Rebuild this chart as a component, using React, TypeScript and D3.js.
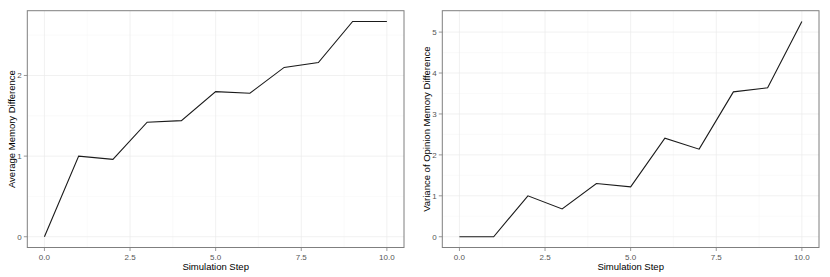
import * as d3 from 'd3';
import React from 'react';

const width = 830;
const height = 277;

const steps = [0, 1, 2, 3, 4, 5, 6, 7, 8, 9, 10];
const avgMemoryDiff = [0, 1.0, 0.96, 1.42, 1.44, 1.8, 1.78, 2.1, 2.16, 2.67, 2.67];
const varOpinionDiff = [0, 0, 1.0, 0.68, 1.3, 1.22, 2.41, 2.14, 3.54, 3.64, 5.26];

const xTicks = [0, 2.5, 5, 7.5, 10];
const xMinor = [1.25, 3.75, 6.25, 8.75];
const leftYTicks = [0, 1, 2];
const leftYMinor = [0.5, 1.5, 2.5];
const rightYTicks = [0, 1, 2, 3, 4, 5];
const rightYMinor = [0.5, 1.5, 2.5, 3.5, 4.5];

const font = '"Liberation Sans", Arial, sans-serif';
const grey50 = '#7f7f7f';

type PanelProps = {
  left: number;
  right: number;
  values: number[];
  yTicks: number[];
  yMinor: number[];
  yTitle: string;
};

const expand = (ext: [number, number]): [number, number] => {
  const pad = (ext[1] - ext[0]) * 0.05;
  return [ext[0] - pad, ext[1] + pad];
};

const Panel = ({ left, right, values, yTicks, yMinor, yTitle }: PanelProps) => {
  const top = 10.7;
  const bottom = 247.5;
  const xScale = d3.scaleLinear().domain(expand([0, 10])).range([left, right]);
  const yExt = d3.extent(values) as [number, number];
  const yScale = d3.scaleLinear().domain(expand(yExt)).range([bottom, top]);
  const line = d3
    .line<number>()
    .x((d, i) => xScale(steps[i]))
    .y((d) => yScale(d));

  return (
    <g>
      <rect x={left} y={top} width={right - left} height={bottom - top} fill="#fff" />
      {xMinor.map((t) => (
        <line key={'xm' + t} x1={xScale(t)} x2={xScale(t)} y1={top} y2={bottom} stroke="#f7f7f7" strokeWidth={0.6} />
      ))}
      {yMinor.map((t) => (
        <line key={'ym' + t} x1={left} x2={right} y1={yScale(t)} y2={yScale(t)} stroke="#f7f7f7" strokeWidth={0.6} />
      ))}
      {xTicks.map((t) => (
        <line key={'xg' + t} x1={xScale(t)} x2={xScale(t)} y1={top} y2={bottom} stroke="#ebebeb" strokeWidth={0.7} />
      ))}
      {yTicks.map((t) => (
        <line key={'yg' + t} x1={left} x2={right} y1={yScale(t)} y2={yScale(t)} stroke="#ebebeb" strokeWidth={0.7} />
      ))}
      <path d={line(values) || ''} fill="none" stroke="#1a1a1a" strokeWidth={1.1} />
      <rect x={left} y={top} width={right - left} height={bottom - top} fill="none" stroke={grey50} strokeWidth={1} />
      {xTicks.map((t) => (
        <g key={'xt' + t}>
          <line x1={xScale(t)} x2={xScale(t)} y1={bottom} y2={bottom + 3.5} stroke={grey50} strokeWidth={0.8} />
          <text x={xScale(t)} y={259.5} textAnchor="middle" fontSize={8} fill="#555" fontFamily={font}>
            {t.toFixed(1)}
          </text>
        </g>
      ))}
      {yTicks.map((t) => (
        <g key={'yt' + t}>
          <line x1={left - 3.5} x2={left} y1={yScale(t)} y2={yScale(t)} stroke={grey50} strokeWidth={0.8} />
          <text
            x={left - 5.5}
            y={yScale(t)}
            dy="0.35em"
            textAnchor="end"
            fontSize={8}
            fill="#555"
            fontFamily={font}
          >
            {t}
          </text>
        </g>
      ))}
      <text x={(xScale(0) + xScale(10)) / 2} y={269.5} textAnchor="middle" fontSize={9.5} fill="#000" fontFamily={font}>
        Simulation Step
      </text>
      <text
        transform={`translate(${left - 12.5}, ${(top + bottom) / 2}) rotate(-90)`}
        textAnchor="middle"
        fontSize={9.5}
        fill="#000"
        fontFamily={font}
      >
        {yTitle}
      </text>
    </g>
  );
};

const App = () => {
  return (
    <div style={{ position: 'absolute', left: 0, top: 0 }}>
      <svg width={width} height={height} style={{ display: 'block', background: '#fff' }}>
        <Panel left={27.3} right={404} values={avgMemoryDiff} yTicks={leftYTicks} yMinor={leftYMinor} yTitle="Average Memory Difference" />
        <Panel left={442.3} right={819} values={varOpinionDiff} yTicks={rightYTicks} yMinor={rightYMinor} yTitle="Variance of Opinion Memory Difference" />
      </svg>
    </div>
  );
};

export default App;
